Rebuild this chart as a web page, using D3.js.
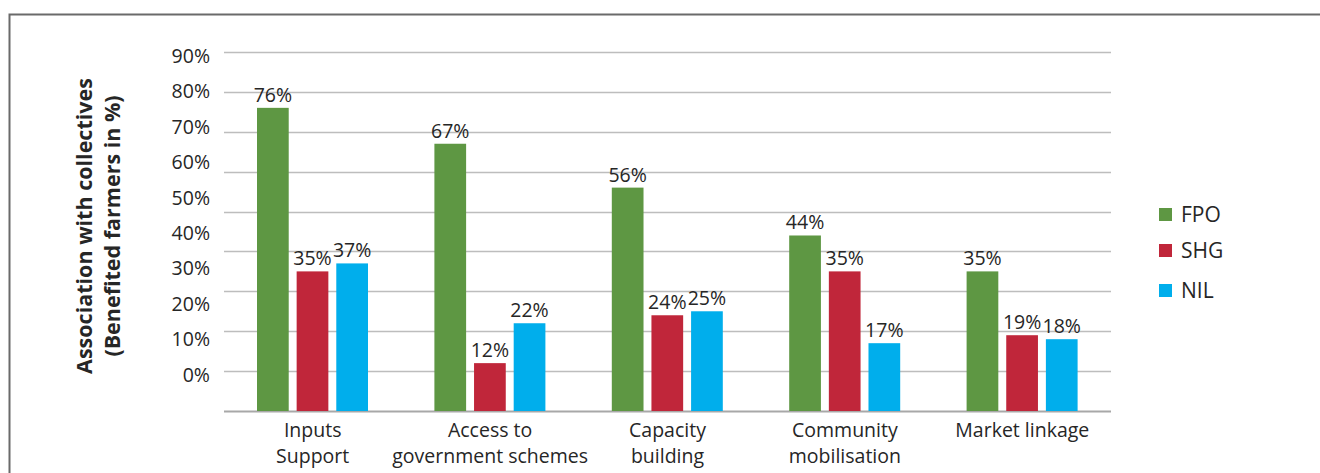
<!DOCTYPE html>
<html><head><meta charset="utf-8">
<script src="https://cdn.jsdelivr.net/npm/d3@7"></script>
<style>
body{margin:0;background:#fff;}
svg{display:block;font-family:"Open Sans","Noto Sans",sans-serif;}
</style></head>
<body><svg id="c" width="1320" height="473"></svg>
<script>
const categories = [["Inputs","Support"],["Access to","government schemes"],["Capacity","building"],["Community","mobilisation"],["Market linkage"]];
const seriesNames = ["FPO","SHG","NIL"];
const fpo = [76,67,56,44,35];
const shg = [35,12,24,35,19];
const nil = [37,22,25,17,18];
const tickValues = [0,10,20,30,40,50,60,70,80,90];
const colors = ["#5E9743","#C0263A","#00AEEC"];
const yTitle = ["Association with collectives","(Benefited farmers in %)"];

const values = [fpo, shg, nil];
const svg = d3.select("#c");
const textColor = "#262626";

// frame
svg.append("path").attr("d","M9.5,473 L9.5,14.5 L1320,14.5").attr("fill","none").attr("stroke","#6a6a6a").attr("stroke-width",2);

const x0 = d3.scaleBand().domain(d3.range(categories.length)).range([224,1111]).paddingInner(0).paddingOuter(0);
const x1 = d3.scaleBand().domain(seriesNames).range([33, 33+111]).paddingInner(0.2).paddingOuter(0);
const y = d3.scaleLinear().domain([0,90]).range([411,52]);
// tick labels in the reference sit at their own (compressed) positions
const yLab = d3.scaleLinear().domain([0,90]).range([375,56]);

// gridlines
svg.append("g").selectAll("line").data(tickValues).join("line")
  .attr("x1",224).attr("x2",1111)
  .attr("y1",d=>Math.round(y(d))+0.5).attr("y2",d=>Math.round(y(d))+0.5)
  .attr("stroke",d=>d===0?"#a8a8a8":"#bdbdbd").attr("stroke-width",d=>d===0?2:1.5);

// y tick labels
const yAxis = d3.axisLeft(yLab).tickValues(tickValues).tickFormat(d=>d+"%").tickSize(0).tickPadding(0);
const ga = svg.append("g").attr("transform","translate(210,0)").call(yAxis);
ga.select(".domain").remove();
ga.selectAll("text").attr("font-size",19.5).attr("fill",textColor).attr("font-family","Open Sans");

// bars
const groups = svg.append("g").selectAll("g").data(categories).join("g")
  .attr("transform",(d,i)=>`translate(${x0(i)},0)`);
groups.each(function(d,i){
  const g = d3.select(this);
  seriesNames.forEach((s,k)=>{
    const v = values[k][i];
    g.append("rect").attr("x",x1(s)).attr("width",x1.bandwidth())
      .attr("y",y(v)).attr("height",y(0)-y(v)).attr("fill",colors[k]);
    g.append("text").attr("x",x1(s)+x1.bandwidth()/2).attr("y",y(v)-6)
      .attr("text-anchor","middle").attr("font-size",19.5).attr("fill",textColor).text(v+"%");
  });
  g.append("text").attr("x",x0.bandwidth()/2).attr("y",437)
    .attr("text-anchor","middle").attr("font-size",19.5).attr("fill",textColor)
    .selectAll("tspan").data(d).join("tspan")
    .attr("x",x0.bandwidth()/2).attr("dy",(t,j)=>j===0?0:26).text(t=>t);
});

// y title
const yt = svg.append("text").attr("transform","translate(0,226) rotate(-90)")
  .attr("text-anchor","middle").attr("font-weight","bold").attr("font-size",21.5).attr("fill",textColor);
yt.selectAll("tspan").data(yTitle).join("tspan").attr("x",0).attr("y",(d,i)=>i===0?92:120).text(d=>d);

// legend
const lg = svg.append("g").selectAll("g").data(seriesNames).join("g")
  .attr("transform",(d,i)=>`translate(1159,${[208,244,284][i]})`);
lg.append("rect").attr("width",13).attr("height",13).attr("fill",(d,i)=>colors[i]);
lg.append("text").attr("x",22).attr("y",6.5).attr("dy","0.35em").attr("font-size",21).attr("fill",textColor).text(d=>d);
</script></body></html>
